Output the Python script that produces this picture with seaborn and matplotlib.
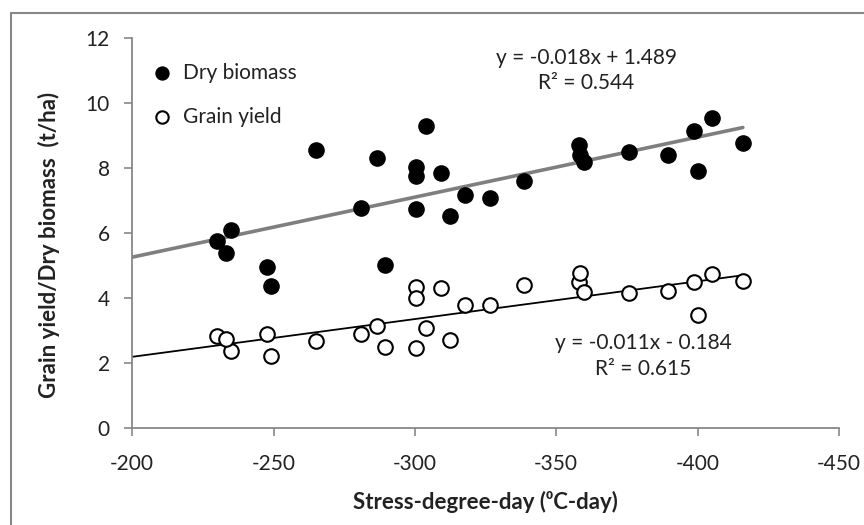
import numpy as np
import pandas as pd
import matplotlib.pyplot as plt
from matplotlib.lines import Line2D
import seaborn as sns

# values
stress_dd = [-230.0, -235.0, -233.2, -247.7, -249.1, -265.1, -280.8, -286.5, -289.6,
             -300.3, -300.5, -300.3, -303.8, -309.3, -312.5, -317.8, -326.7, -338.5,
             -357.9, -358.5, -359.7, -375.9, -389.6, -398.8, -400.3, -405.2, -416.0]
dry_biomass = [5.77, 6.10, 5.38, 4.97, 4.38, 8.57, 6.78, 8.30, 5.03,
               8.03, 7.75, 6.75, 9.29, 7.86, 6.52, 7.16, 7.09, 7.62,
               8.72, 8.40, 8.19, 8.50, 8.42, 9.13, 7.91, 9.55, 8.77]
grain_yield = [2.84, 2.38, 2.74, 2.89, 2.22, 2.69, 2.89, 3.15, 2.48,
               4.33, 3.99, 2.46, 3.07, 4.30, 2.72, 3.77, 3.80, 4.41,
               4.49, 4.76, 4.20, 4.15, 4.23, 4.49, 3.49, 4.74, 4.51]

eq_biomass = ["y = -0.018x + 1.489", "R² = 0.544"]
eq_grain = ["y = -0.011x - 0.184", "R² = 0.615"]

sns.set_theme(style="ticks")
plt.rcParams['font.family'] = ['Lato', 'DejaVu Sans']
plt.rcParams['axes.unicode_minus'] = False

df = pd.DataFrame({'sdd': stress_dd, 'biomass': dry_biomass, 'grain': grain_yield})

fig = plt.figure(figsize=(8.64, 5.25), dpi=100)
ax = fig.add_axes([0.153, 0.185, 0.818, 0.742])

# linear trendlines, drawn from -200 to the last data point like the Excel chart
x_line = np.array([-200, min(stress_dd)])
b1 = np.polyfit(df['sdd'], df['biomass'], 1)
b2 = np.polyfit(df['sdd'], df['grain'], 1)
ax.plot(x_line, np.polyval(b1, x_line), color='#7f7f7f', lw=2.6, zorder=2)
ax.plot(x_line, np.polyval(b2, x_line), color='black', lw=1.3, zorder=2)

sns.scatterplot(data=df, x='sdd', y='biomass', ax=ax, s=120, color='black',
                edgecolor='black', linewidth=1, label='Dry biomass', zorder=3)
sns.scatterplot(data=df, x='sdd', y='grain', ax=ax, s=110, facecolor='white',
                edgecolor='black', linewidth=1.5, label='Grain yield', zorder=3)

ax.set_xlim(-200, -450)
ax.set_ylim(0, 12)
ax.set_xticks(np.arange(-200, -451, -50))
ax.set_yticks(np.arange(0, 13, 2))
ax.tick_params(axis='both', labelsize=15, colors='#888888', labelcolor='#222222',
               length=6, width=1.2)
ax.tick_params(axis='x', pad=13)
ax.tick_params(axis='y', pad=10)
for side in ['left', 'bottom']:
    ax.spines[side].set_color('#888888')
    ax.spines[side].set_linewidth(1.3)
sns.despine(ax=ax)

ax.set_xlabel('Stress-degree-day (⁰C-day)', fontsize=16, fontweight='bold', labelpad=12,
              color='#222222')
ax.set_ylabel('Grain yield/Dry biomass  (t/ha)', fontsize=16, fontweight='bold',
              color='#222222')
ax.yaxis.set_label_coords(-0.102, 0.47)

leg = ax.legend(loc='upper left', bbox_to_anchor=(-0.008, 0.975), frameon=False,
                fontsize=15, handletextpad=0.0, labelspacing=1.15, borderaxespad=0.3,
                markerscale=0.85)
for t in leg.get_texts():
    t.set_color('#222222')

ax.text(-360.6, 11.38, eq_biomass[0], ha='center', va='center', fontsize=15, color='#222222')
ax.text(-360.6, 10.63, eq_biomass[1], ha='center', va='center', fontsize=15, color='#222222')
ax.text(-380.7, 2.62, eq_grain[0], ha='center', va='center', fontsize=15, color='#222222')
ax.text(-380.7, 1.80, eq_grain[1], ha='center', va='center', fontsize=15, color='#222222')

# outer chart frame (only left and top are visible in the picture)
fig.add_artist(Line2D([11 / 864, 11 / 864], [0, 1 - 13 / 525], color='#888888', lw=1.5))
fig.add_artist(Line2D([11 / 864, 1], [1 - 13 / 525, 1 - 13 / 525], color='#888888', lw=1.5))

fig.savefig('out.png', dpi=100)
